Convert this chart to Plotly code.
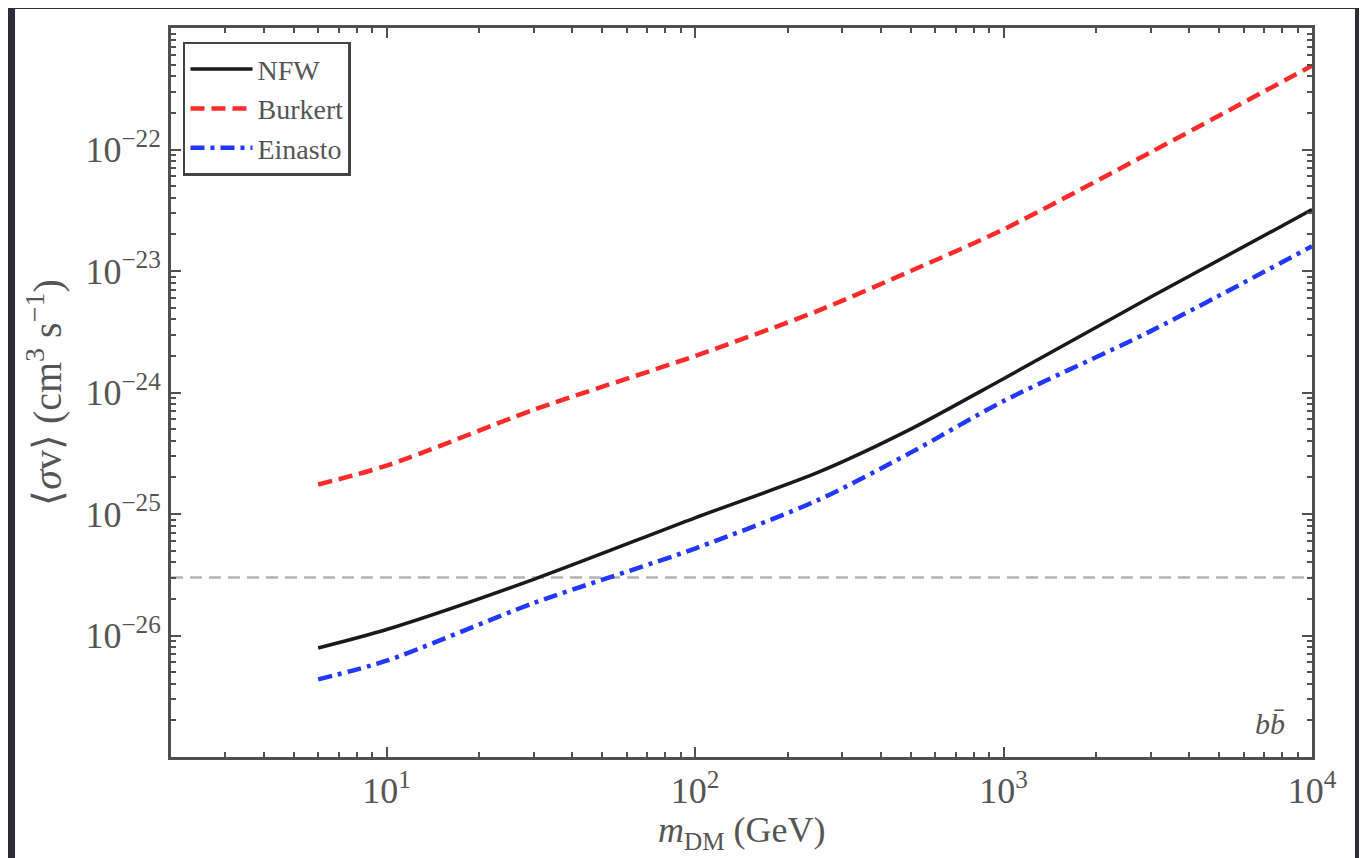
import plotly.graph_objects as go

# Data
mass_gev = [6, 10, 30, 100, 250, 500, 1000, 3000, 10000]
nfw = [7.9e-27, 1.12e-26, 2.9e-26, 9.3e-26, 2.2e-25, 5.0e-25, 1.3e-24, 6.1e-24, 3.2e-23]
burkert = [1.75e-25, 2.5e-25, 7.2e-25, 2.0e-24, 4.7e-24, 1.0e-23, 2.2e-23, 9.5e-23, 4.9e-22]
einasto = [4.35e-27, 6.2e-27, 1.85e-26, 5.2e-26, 1.3e-25, 3.2e-25, 8.5e-25, 3.2e-24, 1.6e-23]
thermal_x = [2, 10000]
thermal_y = [3e-26, 3e-26]

x_major = [10, 100, 1000, 10000]
x_labels = ["10<sup>1</sup>", "10<sup>2</sup>", "10<sup>3</sup>", "10<sup>4</sup>"]
y_major = [1e-26, 1e-25, 1e-24, 1e-23, 1e-22]
y_labels = ["10<sup>−26</sup>", "10<sup>−25</sup>", "10<sup>−24</sup>", "10<sup>−23</sup>", "10<sup>−22</sup>"]

FONT = "Liberation Serif"
TXT = "#555555"
AX = "#505050"

fig = go.Figure()
fig.add_trace(go.Scatter(x=thermal_x, y=thermal_y, mode="lines", showlegend=False,
                         line=dict(color="#b4b4b4", width=2.5, dash="12px,7px")))
fig.add_trace(go.Scatter(x=mass_gev, y=nfw, mode="lines", name="NFW",
                         line=dict(color="#1a1a1a", width=3.5, shape="spline", smoothing=0.8)))
fig.add_trace(go.Scatter(x=mass_gev, y=burkert, mode="lines", name="Burkert",
                         line=dict(color="#ff2b2b", width=4.5, dash="14px,7px", shape="spline", smoothing=0.8)))
fig.add_trace(go.Scatter(x=mass_gev, y=einasto, mode="lines", name="Einasto",
                         line=dict(color="#2038ff", width=4.5, dash="14px,6px,4px,6px", shape="spline", smoothing=0.8)))

minor_x = [m * 10**e for e in range(0, 4) for m in range(2, 10) if 2 <= m * 10**e <= 10000]
minor_y = [m * 10.0**e for e in range(-27, -21) for m in range(2, 10)]

fig.update_xaxes(type="log", range=[0.30103, 4], tickvals=x_major, ticktext=x_labels,
                 ticks="inside", ticklen=10, tickwidth=2, tickcolor=AX, automargin=False,
                 showline=True, linecolor=AX, linewidth=3, mirror="allticks", showgrid=False,
                 zeroline=False, tickfont=dict(family=FONT, size=36, color=TXT),
                 minor=dict(tickvals=minor_x, ticks="inside", ticklen=5, tickwidth=1.5, tickcolor=AX, showgrid=False))
fig.update_yaxes(type="log", range=[-27, -21], tickvals=y_major, ticktext=y_labels,
                 ticks="inside", ticklen=10, tickwidth=2, tickcolor=AX, automargin=False,
                 showline=True, linecolor=AX, linewidth=3, mirror="allticks", showgrid=False,
                 zeroline=False, tickfont=dict(family=FONT, size=36, color=TXT),
                 minor=dict(tickvals=minor_y, ticks="inside", ticklen=5, tickwidth=1.5, tickcolor=AX, showgrid=False))

# axis titles
fig.add_annotation(x=0.5, y=-0.103, xref="paper", yref="paper", xanchor="center", yanchor="middle",
                   text="<i>m</i><sub>DM</sub> (GeV)", showarrow=False,
                   font=dict(family=FONT, size=36, color=TXT))
fig.add_annotation(x=-0.111, y=0.5, xref="paper", yref="paper", xanchor="center", yanchor="middle",
                   text="⟨<i>σ</i>v⟩ (cm<sup>3</sup> s<sup>−1</sup>)", showarrow=False, textangle=-90,
                   font=dict(family=FONT, size=40, color=TXT))

fig.add_annotation(x=0.978, y=0.02, xref="paper", yref="paper", xanchor="right", yanchor="bottom",
                   text="<i>bb̄</i>", showarrow=False, font=dict(family=FONT, size=30, color=TXT))

# white card behind the figure
fig.add_shape(type="rect", xref="paper", yref="paper", x0=-0.1367, x1=1.0377, y0=-0.16, y1=1.026,
              fillcolor="white", line=dict(width=0), layer="below")

fig.update_layout(
    width=1367, height=858,
    margin=dict(l=163, r=63, t=20, b=109, autoexpand=False),
    paper_bgcolor="#2c2c36", plot_bgcolor="white",
    font=dict(family=FONT, color=TXT),
    legend=dict(x=0.0105, y=0.981, xanchor="left", yanchor="top",
                bgcolor="white", bordercolor="#444444", borderwidth=2.5,
                font=dict(family=FONT, size=28, color=TXT), itemwidth=62, tracegroupgap=0),
)

fig.write_html("out.html")
